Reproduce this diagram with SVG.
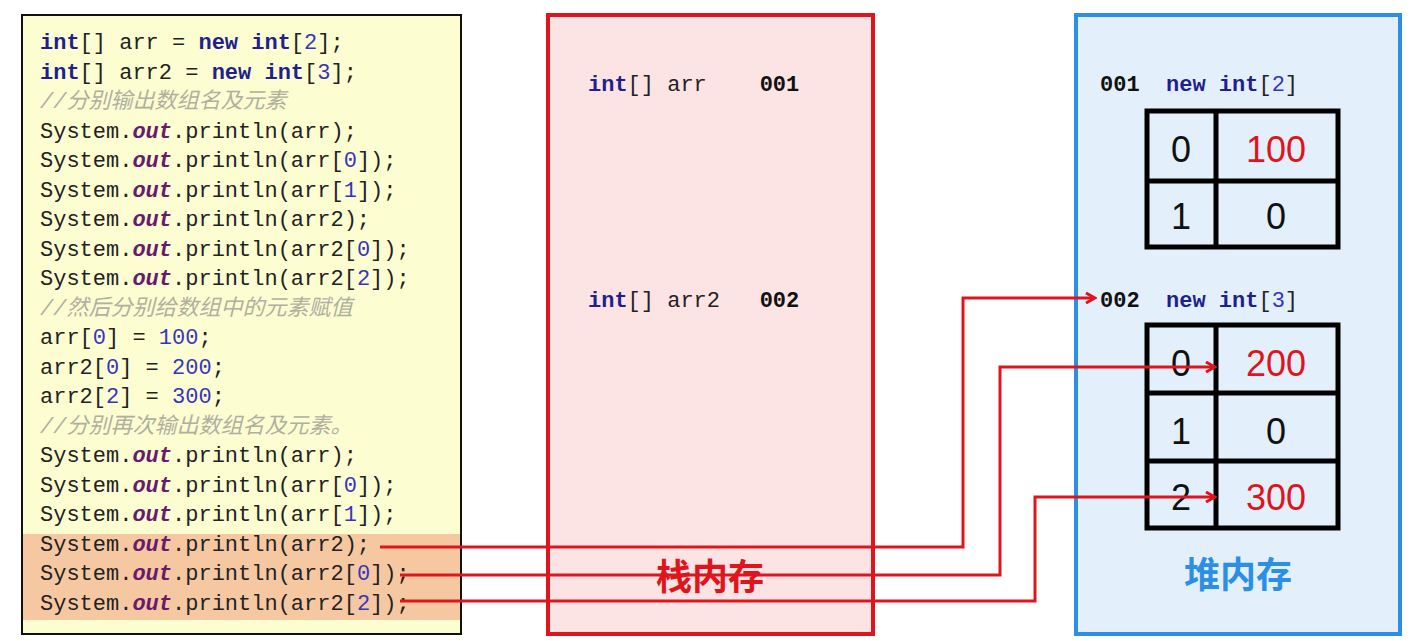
<svg xmlns="http://www.w3.org/2000/svg" width="1421" height="641" viewBox="0 0 1421 641">
<style>
.c{font-family:"Liberation Mono","Noto Sans CJK SC",monospace;font-size:22px;fill:#222;white-space:pre}
.k{fill:#1f1f8f;font-weight:bold}
.n{fill:#3535c0}
.o{fill:#6a1a6a;font-style:italic;font-weight:bold}
.cm{fill:#b0b0a0;font-style:italic}
.big{font-family:"Liberation Sans","Noto Sans CJK SC",sans-serif;font-size:36px;text-anchor:middle}
.t{fill:none;stroke:#000;stroke-width:5}
.a{fill:none;stroke:#e0141c;stroke-width:3}
</style>
<defs><marker id="ah" markerWidth="12" markerHeight="12" refX="10" refY="6" orient="auto" markerUnits="userSpaceOnUse"><path d="M1,1 L10,6 L1,11" fill="none" stroke="#e0141c" stroke-width="3"/></marker></defs>
<rect width="1421" height="641" fill="#fff"/>
<g id="code">
<rect x="22" y="15" width="439" height="619" fill="#fdfdd2" stroke="#111" stroke-width="2"/>
<rect x="23" y="534" width="437" height="86" fill="#f6c8a2"/>
<g class="c">
<text x="40" y="49"><tspan class="k">int</tspan>[] arr = <tspan class="k">new int</tspan>[<tspan class="n">2</tspan>];</text>
<text x="40" y="79"><tspan class="k">int</tspan>[] arr2 = <tspan class="k">new int</tspan>[<tspan class="n">3</tspan>];</text>
<text x="40" y="108" class="cm">//分别输出数组名及元素</text>
<text x="40" y="138">System.<tspan class="o">out</tspan>.println(arr);</text>
<text x="40" y="167">System.<tspan class="o">out</tspan>.println(arr[<tspan class="n">0</tspan>]);</text>
<text x="40" y="197">System.<tspan class="o">out</tspan>.println(arr[<tspan class="n">1</tspan>]);</text>
<text x="40" y="226">System.<tspan class="o">out</tspan>.println(arr2);</text>
<text x="40" y="256">System.<tspan class="o">out</tspan>.println(arr2[<tspan class="n">0</tspan>]);</text>
<text x="40" y="285">System.<tspan class="o">out</tspan>.println(arr2[<tspan class="n">2</tspan>]);</text>
<text x="40" y="315" class="cm">//然后分别给数组中的元素赋值</text>
<text x="40" y="344">arr[<tspan class="n">0</tspan>] = <tspan class="n">100</tspan>;</text>
<text x="40" y="374">arr2[<tspan class="n">0</tspan>] = <tspan class="n">200</tspan>;</text>
<text x="40" y="403">arr2[<tspan class="n">2</tspan>] = <tspan class="n">300</tspan>;</text>
<text x="40" y="433" class="cm">//分别再次输出数组名及元素。</text>
<text x="40" y="462">System.<tspan class="o">out</tspan>.println(arr);</text>
<text x="40" y="492">System.<tspan class="o">out</tspan>.println(arr[<tspan class="n">0</tspan>]);</text>
<text x="40" y="521">System.<tspan class="o">out</tspan>.println(arr[<tspan class="n">1</tspan>]);</text>
<text x="40" y="551">System.<tspan class="o">out</tspan>.println(arr2);</text>
<text x="40" y="580">System.<tspan class="o">out</tspan>.println(arr2[<tspan class="n">0</tspan>]);</text>
<text x="40" y="610">System.<tspan class="o">out</tspan>.println(arr2[<tspan class="n">2</tspan>]);</text>
</g>
</g>
<g id="stack">
<rect x="548" y="15" width="325" height="619" fill="#fde4e4" stroke="#e0141c" stroke-width="4"/>
<text class="c" x="588" y="91"><tspan class="k">int</tspan>[] arr    <tspan font-weight="bold" fill="#111">001</tspan></text>
<text class="c" x="588" y="307"><tspan class="k">int</tspan>[] arr2   <tspan font-weight="bold" fill="#111">002</tspan></text>
<text class="big" x="710" y="590" fill="#e0141c" font-weight="bold">栈内存</text>
</g>
<g id="heap">
<rect x="1076" y="15" width="324" height="619" fill="#e3f0fc" stroke="#2b8fe8" stroke-width="4"/>
<text class="c" x="1100" y="91"><tspan font-weight="bold" fill="#111">001</tspan>  <tspan class="k">new int</tspan>[<tspan class="n">2</tspan>]</text>
<text class="c" x="1100" y="307"><tspan font-weight="bold" fill="#111">002</tspan>  <tspan class="k">new int</tspan>[<tspan class="n">3</tspan>]</text>
<g id="arr1">
<rect class="t" x="1147" y="111" width="191" height="136"/>
<line class="t" x1="1216" y1="111" x2="1216" y2="247"/>
<line class="t" x1="1147" y1="181" x2="1338" y2="181"/>
<text class="big" x="1181" y="162" fill="#111">0</text>
<text class="big" x="1276" y="162" fill="#e0141c">100</text>
<text class="big" x="1181" y="229" fill="#111">1</text>
<text class="big" x="1276" y="229" fill="#111">0</text>
</g>
<g id="arr2">
<rect class="t" x="1147" y="325" width="191" height="203"/>
<line class="t" x1="1216" y1="325" x2="1216" y2="528"/>
<line class="t" x1="1147" y1="393" x2="1338" y2="393"/>
<line class="t" x1="1147" y1="461" x2="1338" y2="461"/>
<text class="big" x="1181" y="376" fill="#111">0</text>
<text class="big" x="1276" y="376" fill="#e0141c">200</text>
<text class="big" x="1181" y="444" fill="#111">1</text>
<text class="big" x="1276" y="444" fill="#111">0</text>
<text class="big" x="1181" y="510" fill="#111">2</text>
<text class="big" x="1276" y="510" fill="#e0141c">300</text>
</g>
<text class="big" x="1238" y="588" fill="#2b8fe8" font-weight="bold">堆内存</text>
</g>
<g id="connectors">
<polyline class="a" points="380,547 963,547 963,298 1095,298" marker-end="url(#ah)"/>
<polyline class="a" points="400,575 1000,575 1000,367 1215,367" marker-end="url(#ah)"/>
<polyline class="a" points="400,601 1035,601 1035,497 1215,497" marker-end="url(#ah)"/>
</g>
</svg>
